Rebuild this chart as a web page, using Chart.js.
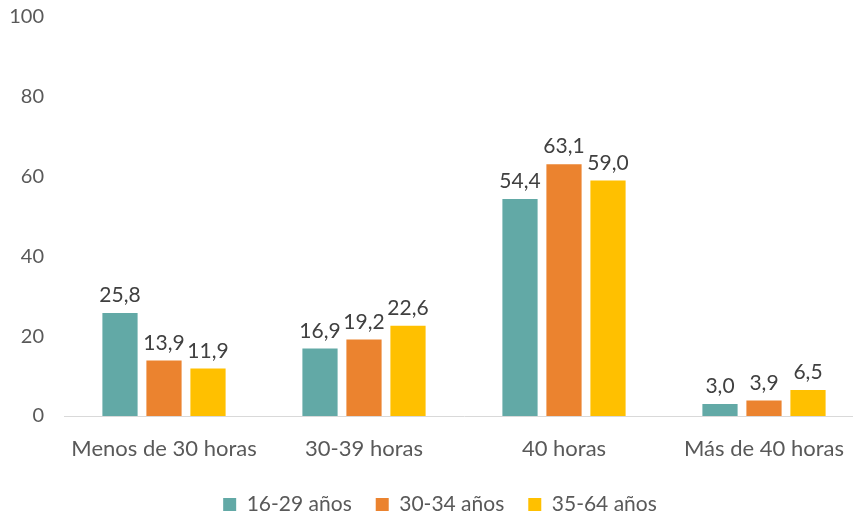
<!DOCTYPE html>
<html><head><meta charset="utf-8">
<script src="https://cdn.jsdelivr.net/npm/chart.js@4/dist/chart.umd.min.js"></script>
<style>html,body{margin:0;padding:0;background:#fff;overflow:hidden}#wrap{width:880px;height:515px;position:relative}</style>
</head><body><div id="wrap"><canvas id="c"></canvas></div>
<script>
const categories = ["Menos de 30 horas", "30-39 horas", "40 horas", "Más de 40 horas"];
const seriesNames = ["16-29 años", "30-34 años", "35-64 años"];
const s1629 = [25.8, 16.9, 54.4, 3.0];
const s3034 = [13.9, 19.2, 63.1, 3.9];
const s3564 = [11.9, 22.6, 59.0, 6.5];
const colors = ["#62A9A6", "#EB832F", "#FFC000"];
const FONT = 'Lato, "Open Sans", sans-serif';

const labelPlugin = {
  id: 'dl',
  afterLayout(chart) {
    if (chart.legend) { chart.legend.left += 8; chart.legend.right += 8; }
  },
  afterDatasetsDraw(chart) {
    const ctx = chart.ctx;
    ctx.save();
    ctx.font = '21px ' + FONT;
    ctx.fillStyle = '#404040';
    ctx.textAlign = 'center';
    ctx.textBaseline = 'bottom';
    chart.data.datasets.forEach((ds, i) => {
      chart.getDatasetMeta(i).data.forEach((el, j) => {
        ctx.fillText(ds.data[j].toFixed(1).replace('.', ','), el.x, el.y - 7);
      });
    });
    ctx.restore();
  }
};

new Chart(document.getElementById('c'), {
  type: 'bar',
  data: {
    labels: categories,
    datasets: [
      {label: seriesNames[0], data: s1629, backgroundColor: colors[0]},
      {label: seriesNames[1], data: s3034, backgroundColor: colors[1]},
      {label: seriesNames[2], data: s3564, backgroundColor: colors[2]}
    ]
  },
  options: {
    responsive: true, maintainAspectRatio: false, animation: false,
    categoryPercentage: 0.66, barPercentage: 0.8,
    layout: {padding: {top: 0, right: 16, left: 0, bottom: -10}},
    plugins: {
      tooltip: {enabled: false},
      legend: {position: 'bottom', labels: {font: {size: 21, family: FONT}, color: '#595959', boxWidth: 13, boxHeight: 13, padding: 24}}
    },
    scales: {
      x: {
        grid: {display: false, drawTicks: false},
        border: {color: '#D9D9D9', width: 1},
        afterFit(s) { s.height = 54; },
        ticks: {font: {size: 22, family: FONT}, color: '#595959', padding: 20}
      },
      y: {
        min: 0, max: 100,
        grid: {display: false, drawTicks: false},
        border: {display: false},
        afterFit(s) { s.width = 64; s.paddingTop = 17; s.paddingBottom = 0; },
        ticks: {stepSize: 20, font: {size: 20, family: FONT}, color: '#595959', padding: 20}
      }
    }
  },
  plugins: [labelPlugin]
});
</script></body></html>
